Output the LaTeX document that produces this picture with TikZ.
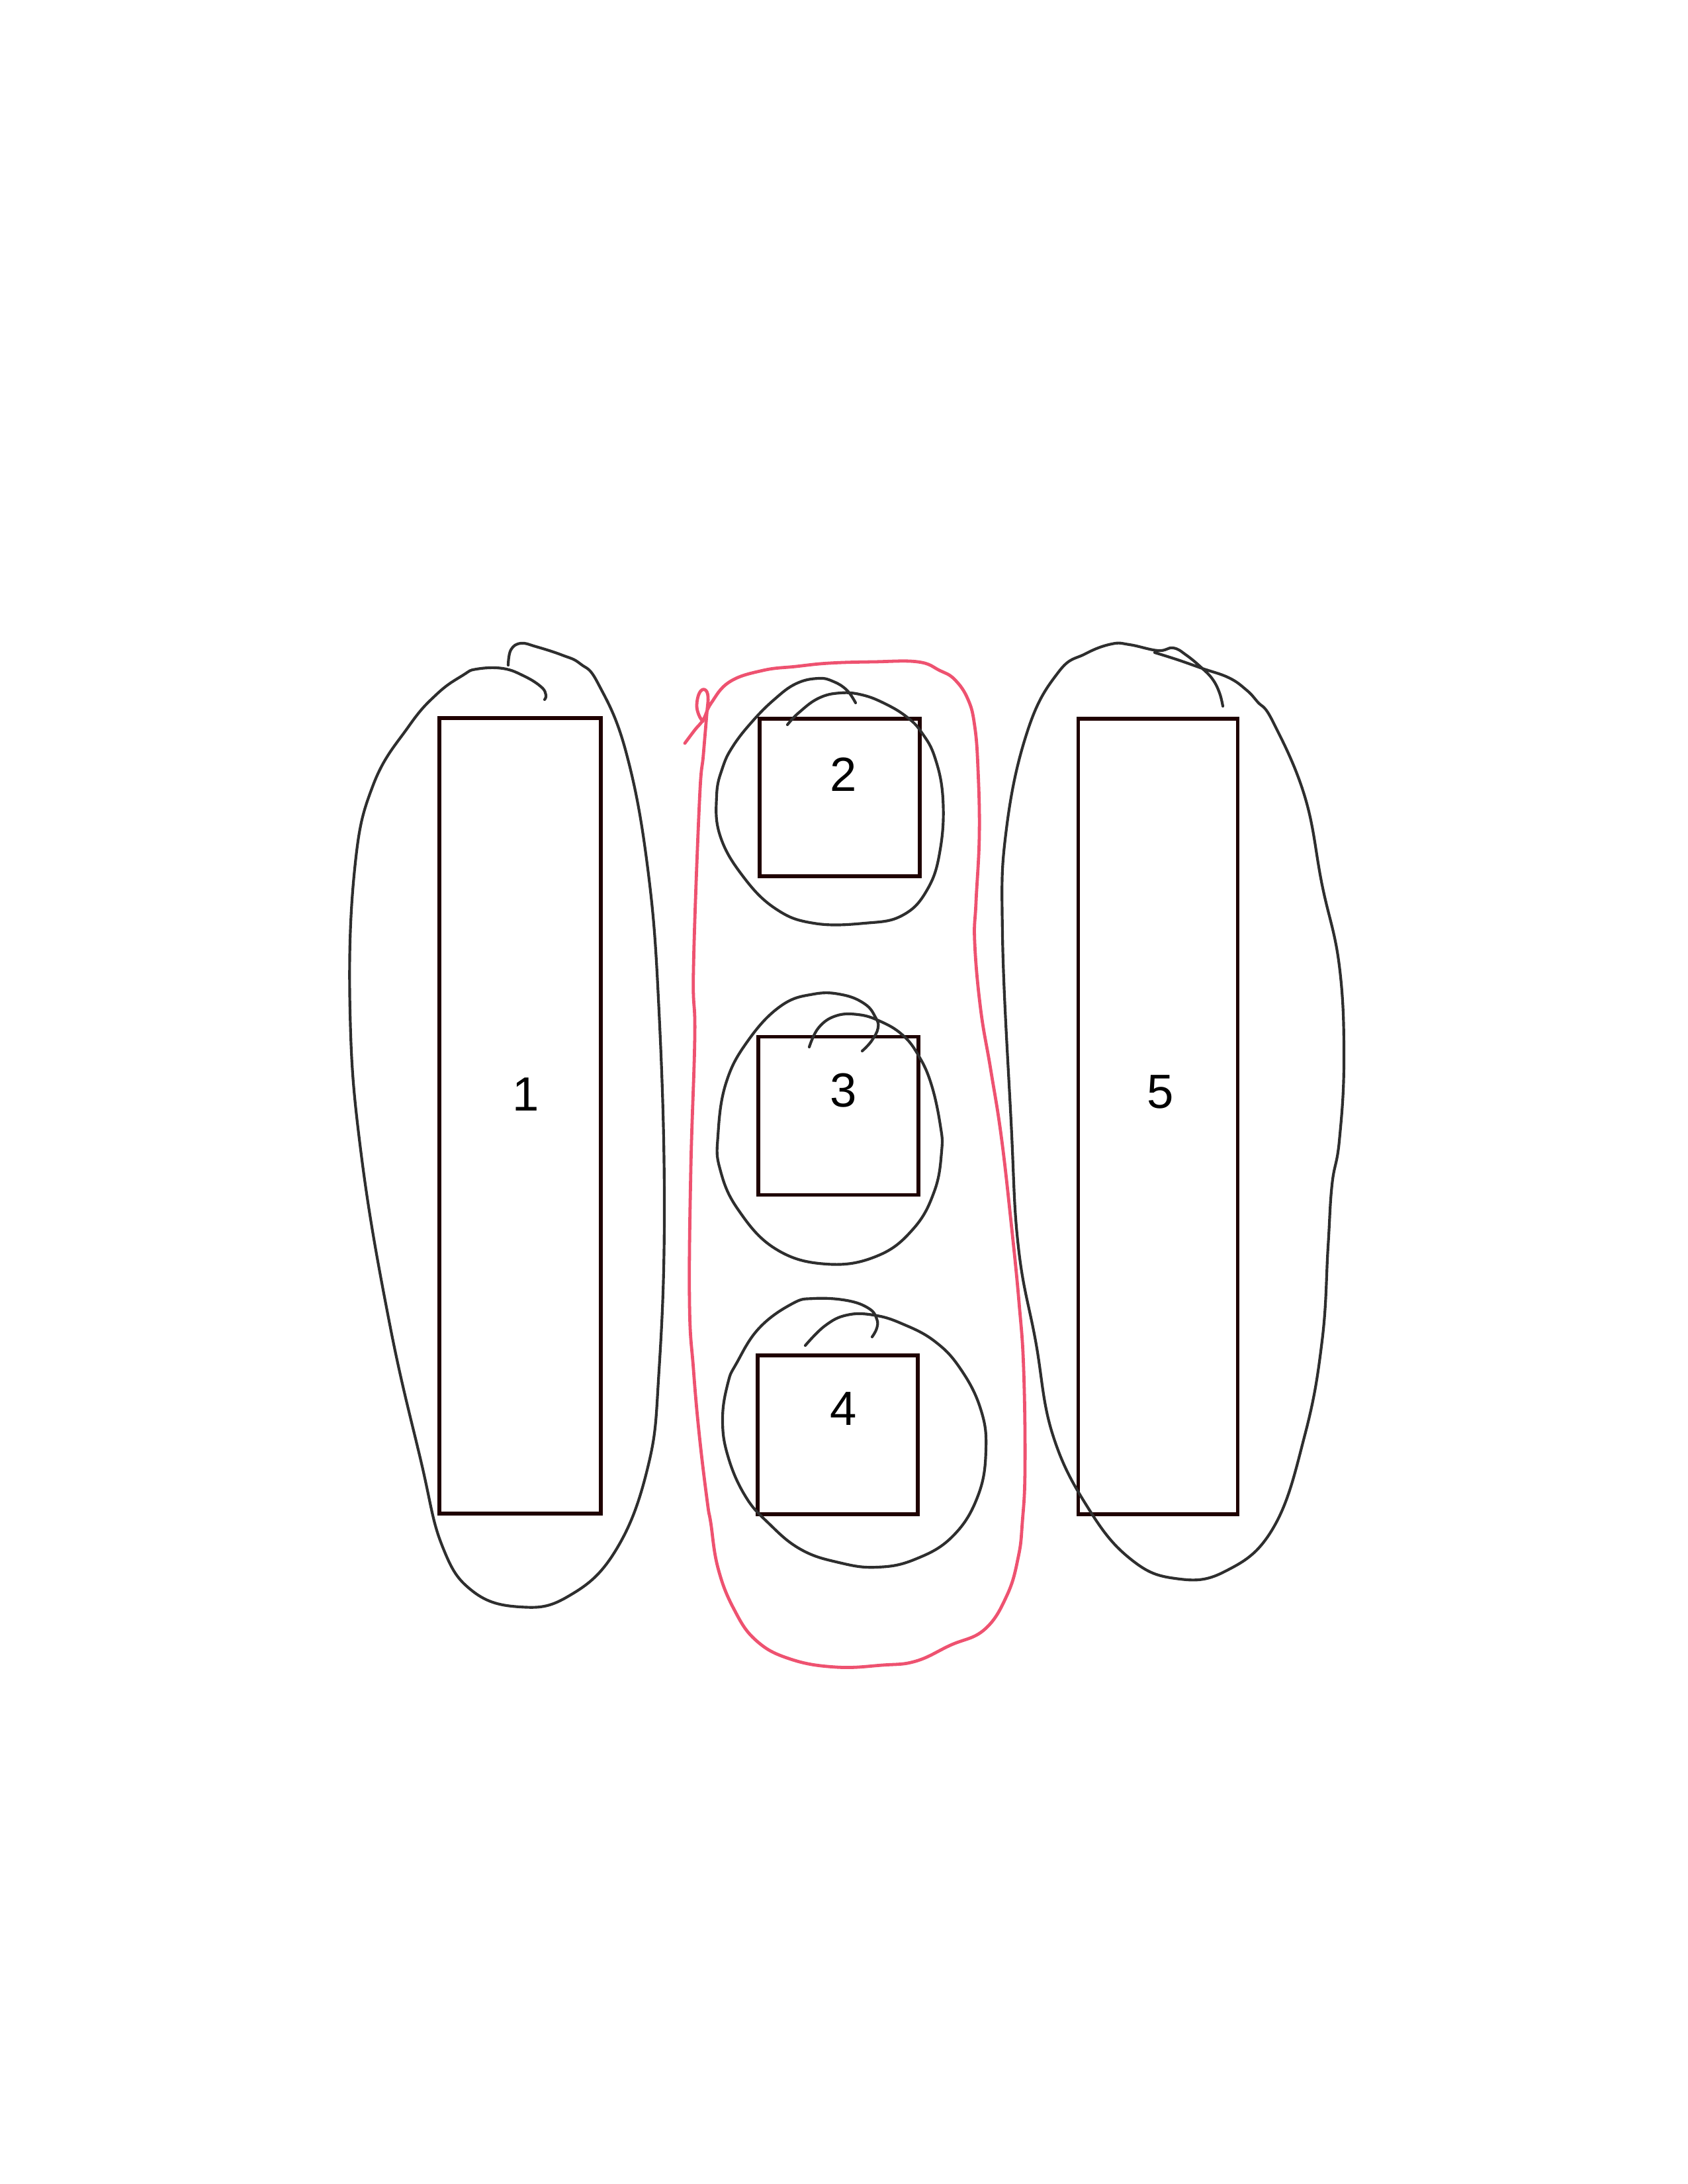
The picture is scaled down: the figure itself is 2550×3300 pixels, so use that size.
\documentclass[tikz,border=0pt]{standalone}
\usepackage{fontspec}
\setmainfont{Liberation Sans}
\begin{document}
\begin{tikzpicture}[x=0.24bp,y=-0.24bp,
  box/.style={draw=black!88!red,line width=1.35bp,inner sep=0pt,outer sep=0pt},
  lbl/.style={font=\fontsize{17.4bp}{20bp}\selectfont,inner sep=0pt,text=black},
  loopline/.style={draw=black!82,line width=1bp,line cap=round,line join=round},
  redline/.style={draw=redpen,line width=1.15bp,line cap=round,line join=round}]
\definecolor{redpen}{RGB}{238,82,112}
\useasboundingbox (0,0) rectangle (2550,3300);
% rectangles
\node[box,minimum width=244*0.24bp,minimum height=1202*0.24bp] (r1) at (786,1686) {};
\node[box,minimum width=242*0.24bp,minimum height=238*0.24bp] (r2) at (1269,1205) {};
\node[box,minimum width=242*0.24bp,minimum height=239*0.24bp] (r3) at (1267,1686) {};
\node[box,minimum width=242*0.24bp,minimum height=240*0.24bp] (r4) at (1266,2168) {};
\node[box,minimum width=241*0.24bp,minimum height=1202*0.24bp] (r5) at (1750,1687) {};
% labels
\node[lbl] (l1) at (795,1654) {1};
\node[lbl] (l2) at (1275,1170) {2};
\node[lbl] (l3) at (1275,1648) {3};
\node[lbl] (l4) at (1275,2129) {4};
\node[lbl] (l5) at (1754,1650) {5};
% hand-drawn loops
\draw[loopline] plot[smooth,tension=0.7] coordinates {(768,1005) (772,982) (787,972) (810,977) (850,990) (877,1003) (904,1033) (946,1136) (979,1313) (996,1529) (1004,1824) (996,2070) (979,2217) (929,2345) (857,2413) (786,2428) (714,2404) (668,2335) (636,2207) (589,2001) (546,1745) (529,1529) (536,1313) (564,1186) (618,1097) (661,1048) (700,1020) (720,1011) (760,1010) (793,1022) (818,1038) (825,1050) (823,1057)};
\draw[loopline] plot[smooth,tension=0.7] coordinates {(1190,1095) (1207,1077) (1237,1055) (1270,1047) (1303,1050) (1337,1063) (1370,1083) (1393,1107) (1413,1145) (1425,1207) (1421,1283) (1402,1343) (1364,1383) (1306,1395) (1230,1395) (1172,1373) (1122,1323) (1088,1262) (1083,1202) (1092,1160) (1108,1127) (1137,1090) (1170,1057) (1203,1033) (1237,1025) (1260,1030) (1280,1043) (1293,1062)};
\draw[loopline] plot[smooth,tension=0.7] coordinates {(1223,1582) (1237,1553) (1263,1535) (1297,1533) (1330,1543) (1363,1563) (1387,1593) (1407,1637) (1421,1700) (1423,1740) (1412,1800) (1380,1857) (1325,1898) (1249,1910) (1172,1887) (1115,1827) (1088,1766) (1085,1716) (1097,1637) (1130,1573) (1180,1520) (1230,1502) (1273,1503) (1307,1517) (1323,1537) (1327,1553) (1317,1573) (1303,1588)};
\draw[loopline] plot[smooth,tension=0.7] coordinates {(1217,2033) (1247,2003) (1280,1987) (1320,1987) (1363,2000) (1413,2027) (1452,2069) (1482,2129) (1490,2190) (1478,2260) (1440,2321) (1383,2356) (1325,2368) (1268,2361) (1210,2341) (1161,2301) (1126,2260) (1100,2200) (1092,2144) (1100,2090) (1113,2060) (1147,2007) (1197,1970) (1230,1962) (1280,1965) (1313,1977) (1325,1993) (1325,2007) (1318,2020)};
\draw[loopline] plot[smooth,tension=0.7] coordinates {(1848,1067) (1843,1047) (1833,1027) (1817,1010) (1793,990) (1773,979) (1750,983) (1707,974) (1680,973) (1640,988) (1600,1015) (1554,1101) (1521,1252) (1515,1412) (1528,1695) (1539,1884) (1565,2026) (1591,2168) (1646,2281) (1709,2356) (1776,2385) (1850,2375) (1924,2309) (1972,2168) (1998,2026) (2007,1884) (2013,1790) (2024,1724) (2031,1601) (2024,1459) (1998,1337) (1972,1204) (1924,1091) (1900,1060) (1883,1042) (1857,1024) (1817,1010) (1780,997) (1745,986)};
% red loop
\draw[redline] plot[smooth,tension=0.7] coordinates {(1035,1123) (1050,1103) (1063,1087) (1075,1062) (1103,1030) (1153,1013) (1203,1007) (1253,1002) (1320,1000) (1387,1000) (1420,1013) (1443,1027) (1463,1057) (1473,1097) (1478,1162) (1480,1262) (1475,1363) (1473,1424) (1482,1525) (1497,1615) (1513,1716) (1528,1847) (1540,1968) (1547,2069) (1549,2220) (1545,2300) (1539,2352) (1522,2410) (1488,2462) (1436,2486) (1384,2510) (1333,2516) (1264,2519) (1195,2507) (1143,2479) (1109,2431) (1085,2369) (1074,2300) (1069,2270) (1057,2170) (1048,2069) (1042,1968) (1044,1766) (1050,1565) (1048,1464) (1057,1212) (1063,1140) (1068,1080) (1070,1053) (1065,1042) (1057,1047) (1053,1065) (1056,1080) (1062,1090)};
\end{tikzpicture}
\end{document}
